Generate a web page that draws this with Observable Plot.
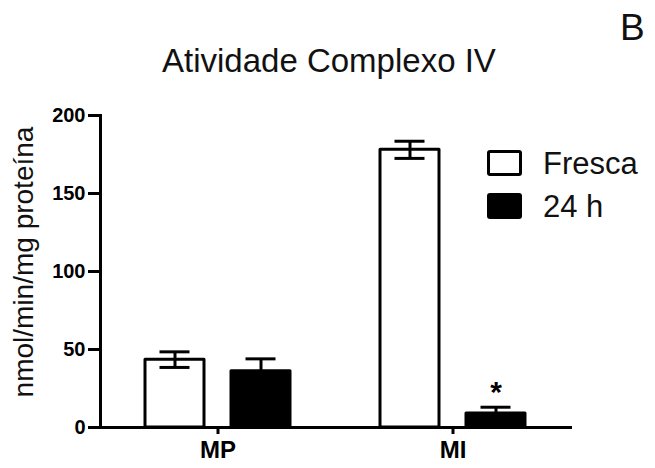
<!DOCTYPE html>
<html>
<head>
<meta charset="utf-8">
<script src="https://cdn.jsdelivr.net/npm/d3@7"></script>
<script src="https://cdn.jsdelivr.net/npm/@observablehq/plot@0.6"></script>
<style>
  body { margin: 0; background: #fff; }
  #chart svg { display: block; }
</style>
</head>
<body>
<div id="chart"></div>
<script>
// Complex IV activity (nmol/min/mg protein), mean ± SEM
const groups = ["MP", "MI"];
const series = ["Fresca", "24 h"];
const frescaMean = [43.5, 178];
const frescaSem = [5, 5.5];
const h24Mean = [36, 9];
const h24Sem = [8, 4];
const significant = [{group: "MI", series: "24 h", label: "*"}];
const yTicks = [0, 50, 100, 150, 200];

const title = "Atividade Complexo IV";
const panelLetter = "B";
const yLabel = "nmol/min/mg proteína";

const rows = groups.flatMap((g, i) => [
  {group: g, series: series[0], mean: frescaMean[i], sem: frescaSem[i]},
  {group: g, series: series[1], mean: h24Mean[i], sem: h24Sem[i]}
]);
const stars = significant.map(s => {
  const r = rows.find(d => d.group === s.group && d.series === s.series);
  return {...s, top: r.mean + r.sem};
});

const font = "'Liberation Sans', Arial, Helvetica, sans-serif";

const chart = Plot.plot({
  width: 655,
  height: 468,
  marginLeft: 100,
  marginRight: 85,
  marginTop: 115,
  marginBottom: 41,
  style: {fontFamily: font, background: "white", color: "black"},
  fx: {domain: groups, padding: 0},
  x: {domain: series, paddingInner: 0.31, paddingOuter: 0.52, axis: null},
  y: {domain: [0, 200]},
  color: {domain: series, range: ["white", "black"]},
  marks: [
    Plot.barY(rows, {fx: "group", x: "series", y: "mean", fill: "series",
      stroke: "black", strokeWidth: 3, strokeLinejoin: "round"}),
    Plot.ruleX(rows, {fx: "group", x: "series",
      y1: d => d.mean - d.sem, y2: d => d.mean + d.sem,
      stroke: "black", strokeWidth: 3}),
    Plot.tickY(rows, {fx: "group", x: "series", y: d => d.mean + d.sem,
      insetLeft: 14.5, insetRight: 14.5, stroke: "black", strokeWidth: 3}),
    Plot.tickY(rows, {fx: "group", x: "series", y: d => d.mean - d.sem,
      insetLeft: 14.5, insetRight: 14.5, stroke: "black", strokeWidth: 3}),
    Plot.text(stars, {fx: "group", x: "series", y: "top", text: "label",
      dy: -15, fontSize: 30, fontWeight: "bold", fill: "black"}),
    Plot.frame({anchor: "left", facet: "super", stroke: "black", strokeWidth: 3}),
    Plot.frame({anchor: "bottom", facet: "super", stroke: "black", strokeWidth: 3}),
    Plot.axisY(yTicks, {tickSize: 12, tickPadding: 3, strokeWidth: 3,
      fontSize: 20, fontWeight: "bold", label: null}),
    Plot.axisFx({anchor: "bottom", tickSize: 7, tickPadding: 6, strokeWidth: 3,
      fontSize: 24, fontWeight: "bold", label: null})
  ]
});

document.getElementById("chart").append(chart);

// Title, panel letter, y label and legend drawn into the same SVG
const svg = d3.select(chart);
svg.append("text")
  .attr("x", 162).attr("y", 72)
  .attr("text-anchor", "start")
  .attr("font-family", font).attr("font-size", 33).attr("fill", "#111")
  .text(title);
svg.append("text")
  .attr("x", 620).attr("y", 40)
  .attr("text-anchor", "start")
  .attr("font-family", font).attr("font-size", 37).attr("fill", "#111")
  .text(panelLetter);
svg.append("text")
  .attr("transform", "translate(33,262) rotate(-90)")
  .attr("text-anchor", "middle")
  .attr("font-family", font).attr("font-size", 28).attr("fill", "#111")
  .text(yLabel);

const colors = chart.scale("color");
const legend = svg.append("g").attr("transform", "translate(488.5,151.5)");
series.forEach((s, i) => {
  const row = legend.append("g").attr("transform", `translate(0,${i * 43})`);
  row.append("rect")
    .attr("width", 32).attr("height", 23).attr("rx", 1.5)
    .attr("fill", colors.apply(s)).attr("stroke", "black").attr("stroke-width", 3);
  row.append("text")
    .attr("x", 54.5).attr("y", 22.5)
    .attr("text-anchor", "start")
    .attr("font-family", font).attr("font-size", 31).attr("fill", "#111")
    .text(s);
});
</script>
</body>
</html>
